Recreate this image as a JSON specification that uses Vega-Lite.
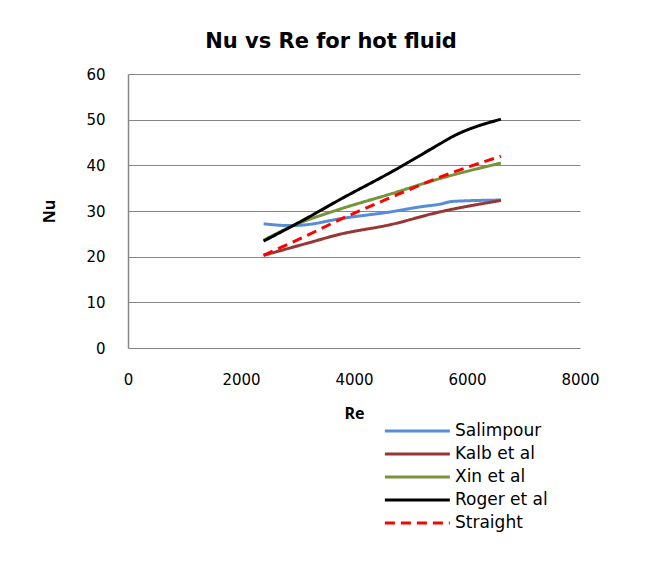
{
  "$schema": "https://vega.github.io/schema/vega-lite/v6.json",
  "autosize": {"type": "none"},
  "width": 452,
  "height": 274,
  "padding": {"left": 128, "top": 74, "right": 65, "bottom": 224},
  "background": "white",
  "title": {
    "text": "Nu vs Re for hot fluid",
    "font": "DejaVu Sans",
    "fontSize": 21,
    "fontWeight": "bold",
    "color": "black",
    "anchor": "middle",
    "offset": 15,
    "dx": -23
  },
  "data": {
    "values": [
      {"series": "Salimpour", "Re": 2400, "Nu": 27.2},
      {"series": "Salimpour", "Re": 2870, "Nu": 26.8},
      {"series": "Salimpour", "Re": 3160, "Nu": 27.0},
      {"series": "Salimpour", "Re": 3750, "Nu": 28.3},
      {"series": "Salimpour", "Re": 4640, "Nu": 29.8},
      {"series": "Salimpour", "Re": 5170, "Nu": 30.9},
      {"series": "Salimpour", "Re": 5520, "Nu": 31.5},
      {"series": "Salimpour", "Re": 5750, "Nu": 32.1},
      {"series": "Salimpour", "Re": 6600, "Nu": 32.4},
      {"series": "Kalb et al", "Re": 2400, "Nu": 20.3},
      {"series": "Kalb et al", "Re": 3160, "Nu": 22.9},
      {"series": "Kalb et al", "Re": 3750, "Nu": 24.9},
      {"series": "Kalb et al", "Re": 4640, "Nu": 27.0},
      {"series": "Kalb et al", "Re": 5520, "Nu": 29.8},
      {"series": "Kalb et al", "Re": 6600, "Nu": 32.3},
      {"series": "Xin et al", "Re": 2400, "Nu": 23.6},
      {"series": "Xin et al", "Re": 2870, "Nu": 26.5},
      {"series": "Xin et al", "Re": 3750, "Nu": 30.4},
      {"series": "Xin et al", "Re": 4640, "Nu": 33.7},
      {"series": "Xin et al", "Re": 5520, "Nu": 37.1},
      {"series": "Xin et al", "Re": 6600, "Nu": 40.5},
      {"series": "Roger et al", "Re": 2400, "Nu": 23.4},
      {"series": "Roger et al", "Re": 3160, "Nu": 28.4},
      {"series": "Roger et al", "Re": 3750, "Nu": 32.5},
      {"series": "Roger et al", "Re": 4640, "Nu": 38.4},
      {"series": "Roger et al", "Re": 5520, "Nu": 44.7},
      {"series": "Roger et al", "Re": 5700, "Nu": 46.0},
      {"series": "Roger et al", "Re": 6600, "Nu": 50.1},
      {"series": "Straight", "Re": 2400, "Nu": 20.3},
      {"series": "Straight", "Re": 3160, "Nu": 24.6},
      {"series": "Straight", "Re": 3750, "Nu": 28.1},
      {"series": "Straight", "Re": 4640, "Nu": 32.9},
      {"series": "Straight", "Re": 5520, "Nu": 37.4},
      {"series": "Straight", "Re": 6600, "Nu": 42.0}
    ]
  },
  "mark": {"type": "line", "strokeWidth": 3, "interpolate": "monotone", "strokeCap": "butt"},
  "encoding": {
    "x": {
      "field": "Re",
      "type": "quantitative",
      "scale": {"domain": [0, 8000], "nice": false, "zero": true},
      "axis": {
        "title": "Re",
        "values": [0, 2000, 4000, 6000, 8000],
        "format": "d",
        "grid": false,
        "domain": false,
        "ticks": false,
        "labelPadding": 24,
        "labelFont": "DejaVu Sans",
        "labelFontSize": 15,
        "labelColor": "black",
        "labelFlush": false,
        "titleFont": "Open Sans",
        "titleFontSize": 16,
        "titleFontWeight": "bold",
        "titleColor": "black",
        "titlePadding": 18
      }
    },
    "y": {
      "field": "Nu",
      "type": "quantitative",
      "scale": {"domain": [0, 60], "nice": false},
      "axis": {
        "title": "Nu",
        "values": [0, 10, 20, 30, 40, 50, 60],
        "grid": true,
        "gridColor": "#868686",
        "gridWidth": 1,
        "domain": true,
        "domainColor": "#868686",
        "domainWidth": 1.5,
        "ticks": false,
        "labelPadding": 23,
        "labelFont": "DejaVu Sans",
        "labelFontSize": 15,
        "labelColor": "black",
        "labelFlush": false,
        "titleFont": "Open Sans",
        "titleFontSize": 16,
        "titleFontWeight": "bold",
        "titleColor": "black",
        "titlePadding": 28
      }
    },
    "color": {
      "field": "series",
      "type": "nominal",
      "scale": {
        "domain": ["Salimpour", "Kalb et al", "Xin et al", "Roger et al", "Straight"],
        "range": ["#558ED5", "#953735", "#77933C", "#000000", "#FF0000"]
      },
      "legend": {"title": null}
    },
    "strokeDash": {
      "field": "series",
      "type": "nominal",
      "scale": {
        "domain": ["Salimpour", "Kalb et al", "Xin et al", "Roger et al", "Straight"],
        "range": [[1, 0], [1, 0], [1, 0], [1, 0], [10, 6]]
      },
      "legend": {"title": null}
    }
  },
  "config": {
    "view": {"stroke": null},
    "legend": {
      "orient": "none",
      "legendX": 255,
      "legendY": 347,
      "symbolType": "M-1,0H7",
      "symbolSize": 264,
      "symbolStrokeWidth": 3,
      "labelFont": "DejaVu Sans",
      "labelFontSize": 17,
      "labelColor": "black",
      "labelOffset": 52,
      "rowPadding": 5
    }
  }
}
